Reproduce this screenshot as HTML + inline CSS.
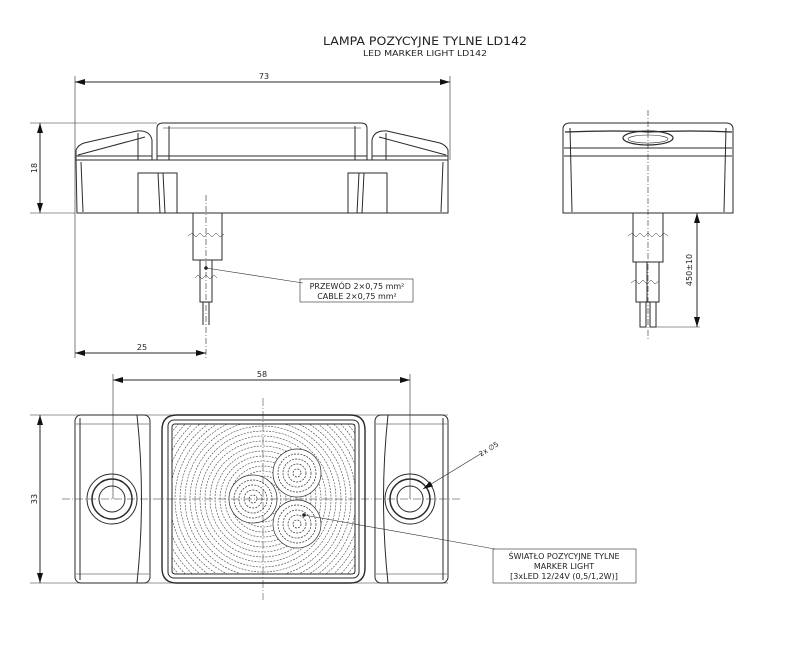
<!DOCTYPE html>
<html><head><meta charset="utf-8"><style>
html,body{margin:0;padding:0;background:#fff}
svg{display:block}
text{font-family:"DejaVu Sans","Liberation Sans",sans-serif;fill:#222}
</style></head><body>
<svg width="800" height="652" viewBox="0 0 800 652" xmlns="http://www.w3.org/2000/svg">
<defs>
<marker id="a" viewBox="0 0 10 6" refX="10" refY="3" markerWidth="10" markerHeight="6" orient="auto-start-reverse" markerUnits="userSpaceOnUse"><path d="M0,0L10,3L0,6z" fill="#111"/></marker>
</defs>
<g stroke="#2a2a2a" fill="none" stroke-width="1">
<text x="425" y="45" font-size="11.5" text-anchor="middle" stroke="none" textLength="204" lengthAdjust="spacingAndGlyphs">LAMPA POZYCYJNE TYLNE LD142</text>
<text x="425" y="56" font-size="8" text-anchor="middle" stroke="none" textLength="124" lengthAdjust="spacingAndGlyphs">LED MARKER LIGHT LD142</text>

<!-- TOP VIEW -->
<line x1="75" y1="76" x2="75" y2="358" stroke-width="0.6"/>
<line x1="450" y1="76" x2="450" y2="160" stroke-width="0.6"/>
<line x1="75" y1="82" x2="450" y2="82" marker-start="url(#a)" marker-end="url(#a)"/>
<text x="264" y="79" font-size="8" text-anchor="middle" stroke="none">73</text>
<line x1="30" y1="123" x2="157" y2="123" stroke-width="0.6"/>
<line x1="30" y1="213" x2="75" y2="213" stroke-width="0.6"/>
<line x1="40" y1="123" x2="40" y2="213" marker-start="url(#a)" marker-end="url(#a)"/>
<text x="37" y="168" font-size="8" text-anchor="middle" stroke="none" transform="rotate(-90 37 168)">18</text>
<path d="M157,160 V128 Q157,123 163,123 H361 Q367,123 367,128 V160"/>
<line x1="169" y1="126" x2="169" y2="160"/><line x1="355" y1="126" x2="355" y2="160"/>
<line x1="157" y1="156" x2="367" y2="156"/>
<line x1="163" y1="128" x2="361" y2="128" stroke-width="0.6"/>
<path d="M76,160 V150 Q78,145 84,143 L137,131 Q150,130 152,140 V160"/>
<path d="M78,155 L145,137"/><line x1="138" y1="133" x2="138" y2="160"/>
<path d="M448,160 V150 Q446,145 440,143 L387,131 Q374,130 372,140 V160"/>
<path d="M446,155 L379,137"/><line x1="386" y1="133" x2="386" y2="160"/>
<line x1="76" y1="160" x2="448" y2="160"/>
<line x1="76" y1="156" x2="152" y2="156"/><line x1="372" y1="156" x2="448" y2="156"/>
<path d="M76,160 L77,213 H448 L448,160"/>
<line x1="81" y1="162" x2="83" y2="212"/><line x1="443" y1="162" x2="441" y2="212"/>
<path d="M138,213 V173 H177 V213"/><line x1="158" y1="173" x2="160" y2="213"/><line x1="163" y1="173" x2="165" y2="213"/>
<path d="M348,213 V173 H387 V213"/><line x1="359" y1="173" x2="357" y2="213"/><line x1="364" y1="173" x2="362" y2="213"/>
<path d="M193,213 V260 H222 V213"/>
<path d="M200,260 V302 H212 V260"/>
<line x1="203" y1="302" x2="203" y2="325"/><line x1="209" y1="302" x2="209" y2="325"/>
<line x1="206" y1="195" x2="206" y2="358" stroke-dasharray="6,2,1,2" stroke-width="0.6"/>
<path d="M188,236 l4,-3 4,4 4,-4 4,4 4,-4 4,4 4,-4 4,4 4,-3" stroke-width="0.5"/>
<path d="M195,278 l3,-3 4,4 4,-4 4,4 4,-4 3,3" stroke-width="0.5"/>
<circle cx="206" cy="268" r="1.3" fill="#111"/>
<line x1="206" y1="268" x2="303" y2="283" stroke-width="0.6"/>
<rect x="300" y="279" width="113" height="23" stroke-width="0.6"/>
<text x="357" y="289" font-size="8" text-anchor="middle" stroke="none">PRZEWÓD 2×0,75 mm²</text>
<text x="357" y="299" font-size="8" text-anchor="middle" stroke="none">CABLE 2×0,75 mm²</text>
<line x1="75" y1="353" x2="206" y2="353" marker-start="url(#a)" marker-end="url(#a)"/>
<text x="142" y="350" font-size="8" text-anchor="middle" stroke="none">25</text>

<!-- SIDE VIEW -->
<path d="M563,213 V128 Q564,123 570,123 H726 Q732,123 733,128 V213 Z"/>
<path d="M565,132 Q620,130 648,132 Q690,130 732,132" stroke-width="1.3"/>
<line x1="564" y1="148" x2="732" y2="148"/><line x1="564" y1="156" x2="732" y2="156"/>
<line x1="570" y1="128" x2="572" y2="212"/><line x1="726" y1="128" x2="724" y2="212"/>
<ellipse cx="648" cy="138" rx="25" ry="7" stroke-width="1.2"/>
<ellipse cx="648" cy="139" rx="20" ry="4" stroke-width="0.6"/>
<line x1="648" y1="110" x2="648" y2="340" stroke-dasharray="6,2,1,2" stroke-width="0.6"/>
<path d="M633,213 V262 H663 V213"/>
<path d="M636,262 V302 H659 V262"/><line x1="647" y1="262" x2="647" y2="302"/>
<path d="M640,302 V327 H646 V302"/><path d="M650,302 V327 H656 V302"/>
<path d="M628,236 l4,-3 4,4 4,-4 4,4 4,-4 4,4 4,-4 4,4 4,-4 4,3" stroke-width="0.5"/>
<path d="M631,283 l4,-3 4,4 4,-4 4,4 4,-4 4,4 4,-3" stroke-width="0.5"/>
<line x1="656" y1="327" x2="700" y2="327" stroke-width="0.6"/>
<line x1="697" y1="213" x2="697" y2="327" marker-start="url(#a)" marker-end="url(#a)"/>
<text x="692" y="270" font-size="8" text-anchor="middle" stroke="none" transform="rotate(-90 692 270)">450±10</text>

<!-- BOTTOM VIEW -->
<line x1="113" y1="374" x2="113" y2="499" stroke-width="0.6"/>
<line x1="410" y1="374" x2="410" y2="499" stroke-width="0.6"/>
<line x1="113" y1="380" x2="410" y2="380" marker-start="url(#a)" marker-end="url(#a)"/>
<text x="262" y="377" font-size="8" text-anchor="middle" stroke="none">58</text>
<line x1="30" y1="415" x2="448" y2="415" stroke-width="0.6"/>
<line x1="30" y1="583" x2="448" y2="583" stroke-width="0.6"/>
<line x1="40" y1="415" x2="40" y2="583" marker-start="url(#a)" marker-end="url(#a)"/>
<text x="37" y="499" font-size="8" text-anchor="middle" stroke="none" transform="rotate(-90 37 499)">33</text>
<rect x="75" y="415" width="75" height="168" rx="6"/>
<line x1="80" y1="418" x2="80" y2="580"/>
<path d="M137,415 Q146,499 137,583"/>
<line x1="76" y1="424" x2="149" y2="424" stroke-width="0.5"/><line x1="76" y1="574" x2="149" y2="574" stroke-width="0.5"/>
<rect x="375" y="415" width="73" height="168" rx="6"/>
<line x1="443" y1="418" x2="443" y2="580"/>
<path d="M388,415 Q379,499 388,583"/>
<line x1="376" y1="424" x2="447" y2="424" stroke-width="0.5"/><line x1="376" y1="574" x2="447" y2="574" stroke-width="0.5"/>
<circle cx="112" cy="499" r="25"/><circle cx="112" cy="499" r="20" stroke-width="1.5"/><circle cx="112" cy="499" r="13"/>
<circle cx="410" cy="499" r="25"/><circle cx="410" cy="499" r="20" stroke-width="1.5"/><circle cx="410" cy="499" r="13"/>
<path d="M162,430 Q162,415 177,415 H350 Q365,415 365,430 V568 Q365,583 350,583 H177 Q162,583 162,568 Z" stroke-width="1.4"/>
<rect x="168" y="420" width="191" height="158" rx="6"/>
<rect x="172" y="424" width="183" height="150" rx="3"/>
<clipPath id="c"><rect x="172" y="424" width="183" height="150"/></clipPath>
<g clip-path="url(#c)" stroke-dasharray="2,1.2" stroke-width="0.6" stroke="#444">
<circle cx="263" cy="499" r="8"/><circle cx="263" cy="499" r="13"/><circle cx="263" cy="499" r="18"/><circle cx="263" cy="499" r="23"/><circle cx="263" cy="499" r="28"/><circle cx="263" cy="499" r="33"/><circle cx="263" cy="499" r="38"/><circle cx="263" cy="499" r="43"/><circle cx="263" cy="499" r="48"/><circle cx="263" cy="499" r="53"/><circle cx="263" cy="499" r="58"/><circle cx="263" cy="499" r="63"/><circle cx="263" cy="499" r="68"/><circle cx="263" cy="499" r="73"/><circle cx="263" cy="499" r="78"/><circle cx="263" cy="499" r="83"/><circle cx="263" cy="499" r="88"/><circle cx="263" cy="499" r="93"/><circle cx="263" cy="499" r="98"/><circle cx="263" cy="499" r="103"/><circle cx="263" cy="499" r="108"/><circle cx="263" cy="499" r="113"/><circle cx="263" cy="499" r="118"/><circle cx="263" cy="499" r="123"/>
</g>
<g fill="#fff" stroke-width="0.7" stroke-dasharray="2,1.2">
<circle cx="253" cy="499" r="24" stroke-dasharray="none"/><circle cx="253" cy="499" r="19"/><circle cx="253" cy="499" r="14"/><circle cx="253" cy="499" r="9"/><circle cx="253" cy="499" r="4"/>
<circle cx="297" cy="473" r="24" stroke-dasharray="none"/><circle cx="297" cy="473" r="19"/><circle cx="297" cy="473" r="14"/><circle cx="297" cy="473" r="9"/><circle cx="297" cy="473" r="4"/>
<circle cx="297" cy="524" r="24" stroke-dasharray="none"/><circle cx="297" cy="524" r="19"/><circle cx="297" cy="524" r="14"/><circle cx="297" cy="524" r="9"/><circle cx="297" cy="524" r="4"/>
</g>
<line x1="62" y1="499" x2="462" y2="499" stroke-dasharray="8,2,1,2" stroke-width="0.5"/>
<line x1="263" y1="398" x2="263" y2="600" stroke-dasharray="8,2,1,2" stroke-width="0.5"/>
<line x1="482" y1="453" x2="423" y2="489" marker-end="url(#a)" stroke-width="0.7"/>
<text x="490" y="451" font-size="7" stroke="none" text-anchor="middle" transform="rotate(-32 490 451)">2x ∅5</text>
<circle cx="304" cy="515" r="1.3" fill="#111"/>
<line x1="304" y1="515" x2="495" y2="549" stroke-width="0.6"/>
<rect x="493" y="549" width="143" height="34" stroke-width="0.6"/>
<text x="564" y="559" font-size="8" text-anchor="middle" stroke="none">ŚWIATŁO POZYCYJNE TYLNE</text>
<text x="564" y="569" font-size="8" text-anchor="middle" stroke="none">MARKER LIGHT</text>
<text x="564" y="579" font-size="8" text-anchor="middle" stroke="none">[3xLED 12/24V (0,5/1,2W)]</text>
</g>
</svg>
</body></html>
